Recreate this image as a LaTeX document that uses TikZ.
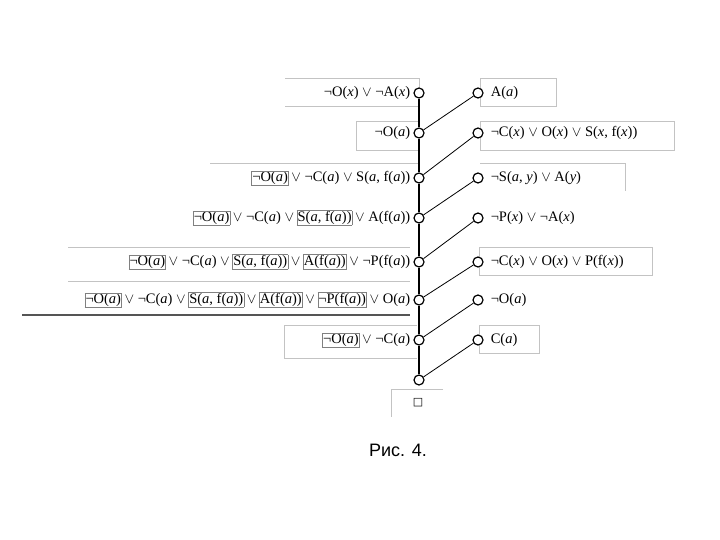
\documentclass[tikz,border=0pt]{standalone}
\usepackage{fontspec}
\setmainfont{Liberation Serif}
\newfontfamily\capfont{Liberation Sans}
\newfontfamily\symfont{DejaVu Sans}
\usepackage{xcolor}
\definecolor{Frame}{RGB}{195,195,195}
\definecolor{Rule}{RGB}{85,85,85}
\usepackage{tikz}
\usetikzlibrary{positioning}
\tikzstyle{Knot}=[circle,draw=black,fill=white,inner sep=0pt,
minimum size=10pt,line width=1.2pt]
\tikzstyle{Edge}=[draw=black,line width=1.2pt]
\tikzstyle{Link}=[draw=black,line width=0.8pt]
\tikzstyle{Clause}=[inner sep=1pt,font=\fontsize{14.5}{16}\selectfont]
\tikzstyle{Cell}=[draw=Frame,line width=0.8pt]
\newcommand{\Or}{$\vee$}
\newcommand{\iv}[1]{\textit{#1}}
\newcommand{\Mark}[1]{\kern-1pt\relax{\setlength{\fboxsep}{0.3pt}\setlength{\fboxrule}{0.6pt}%
\fcolorbox{gray}{white}{#1}}\kern-1pt\relax}
\begin{document}
\begin{tikzpicture}[x=1pt,y=-1pt]
        \useasboundingbox(0,0)rectangle(720,540);
        % table borders
        \draw[Cell](285,78)--(419,78)--(419,88);
        \draw[Cell](285,106)--(419,106);
        \draw[Cell](480,106)--(480,78)--(556,78)--(556,106)--(480,106);
        \draw[Cell](419,121)--(356,121)--(356,150)--(419,150);
        \draw[Cell](480,150)--(480,121)--(674,121)--(674,150)--(480,150);
        \draw[Cell](210,163)--(419,163);
        \draw[Cell](480,163)--(625,163)--(625,191);
        \draw[Cell](68,247)--(410,247);
        \draw[Cell](68,281)--(410,281);
        \draw[Cell](479,275)--(479,247)--(652,247)--(652,275)--(479,275);
        \draw[draw=Rule,line width=1.6pt](22,315)--(410,315);
        \draw[Cell](417,325)--(284,325)--(284,358)--(417,358);
        \draw[Cell](479,353)--(479,325)--(539,325)--(539,353)--(479,353);
        \draw[Cell](443,389)--(391,389)--(391,417);
        % knots
        \node[Knot](L1)at(419,93){};
        \node[Knot](L2)at(419,133){};
        \node[Knot](L3)at(419,178){};
        \node[Knot](L4)at(419,218){};
        \node[Knot](L5)at(419,262){};
        \node[Knot](L6)at(419,300){};
        \node[Knot](L7)at(419,340){};
        \node[Knot](L8)at(419,380){};
        \node[Knot](R1)at(478,93){};
        \node[Knot](R2)at(478,133){};
        \node[Knot](R3)at(478,178){};
        \node[Knot](R4)at(478,218){};
        \node[Knot](R5)at(478,262){};
        \node[Knot](R6)at(478,300){};
        \node[Knot](R7)at(478,340){};
        % clauses
        \node[Clause,left=2pt of L1](A1){¬O(\iv{x}) \Or{} ¬A(\iv{x})};
        \node[Clause,left=2pt of L2](A2){¬O(\iv{a})};
        \node[Clause,left=2pt of L3](A3){\Mark{¬O(\iv{a})} \Or{} ¬C(\iv{a}) \Or{} S(\iv{a}, f(\iv{a}))};
        \node[Clause,left=2pt of L4](A4){\Mark{¬O(\iv{a})} \Or{} ¬C(\iv{a}) \Or{} \Mark{S(\iv{a}, f(\iv{a}))} \Or{} A(f(\iv{a}))};
        \node[Clause,left=2pt of L5](A5){\Mark{¬O(\iv{a})} \Or{} ¬C(\iv{a}) \Or{} \Mark{S(\iv{a}, f(\iv{a}))} \Or{} \Mark{A(f(\iv{a}))} \Or{} ¬P(f(\iv{a}))};
        \node[Clause,left=2pt of L6](A6){\Mark{¬O(\iv{a})} \Or{} ¬C(\iv{a}) \Or{} \Mark{S(\iv{a}, f(\iv{a}))} \Or{} \Mark{A(f(\iv{a}))} \Or{} \Mark{¬P(f(\iv{a}))} \Or{} O(\iv{a})};
        \node[Clause,left=2pt of L7](A7){\Mark{¬O(\iv{a})} \Or{} ¬C(\iv{a})};
        \node[Clause,right=6pt of R1](B1){A(\iv{a})};
        \node[Clause,right=6pt of R2](B2){¬C(\iv{x}) \Or{} O(\iv{x}) \Or{} S(\iv{x}, f(\iv{x}))};
        \node[Clause,right=6pt of R3](B3){¬S(\iv{a}, \iv{y}) \Or{} A(\iv{y})};
        \node[Clause,right=6pt of R4](B4){¬P(\iv{x}) \Or{} ¬A(\iv{x})};
        \node[Clause,right=6pt of R5](B5){¬C(\iv{x}) \Or{} O(\iv{x}) \Or{} P(f(\iv{x}))};
        \node[Clause,right=6pt of R6](B6){¬O(\iv{a})};
        \node[Clause,right=6pt of R7](B7){C(\iv{a})};
        \node[Clause,font=\symfont\fontsize{11}{12}\selectfont](E)at(418,403){□};
        \node[font=\capfont\fontsize{18}{20}\selectfont](cap)at(398,450){Рис. 4.};
        % resolution steps
        \draw[Edge](L1)--(L2);
        \draw[Edge](L2)--(L3);
        \draw[Edge](L3)--(L4);
        \draw[Edge](L4)--(L5);
        \draw[Edge](L5)--(L6);
        \draw[Edge](L6)--(L7);
        \draw[Edge](L7)--(L8);
        \draw[Link](R1)--(L2);
        \draw[Link](R2)--(L3);
        \draw[Link](R3)--(L4);
        \draw[Link](R4)--(L5);
        \draw[Link](R5)--(L6);
        \draw[Link](R6)--(L7);
        \draw[Link](R7)--(L8);
    \end{tikzpicture}
\end{document}
